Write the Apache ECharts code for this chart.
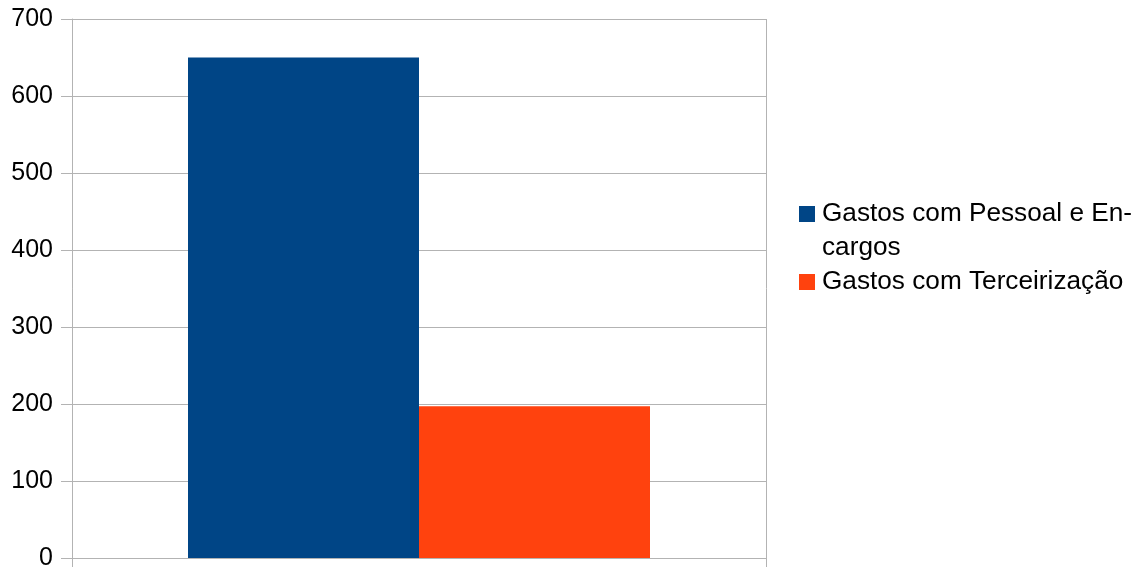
<!DOCTYPE html>
<html>
<head>
<meta charset="utf-8">
<script src="https://cdn.jsdelivr.net/npm/echarts@6/dist/echarts.min.js"></script>
<style>
  html, body { margin: 0; padding: 0; background: #fff; }
  #chart { width: 1144px; height: 571px; }
</style>
</head>
<body>
<div id="chart"></div>
<script>
// dados
var categorias = [""];
var seriesNomes = ["Gastos com Pessoal e Encargos", "Gastos com Terceirização"];
var pessoal = [650];
var terceirizacao = [197];
var yMin = 0, yMax = 700, yPasso = 100;

var chart = echarts.init(document.getElementById("chart"));
var fonte = "'Liberation Sans', Arial, sans-serif";
var cinza = "#b3b3b3";

// icone quadrado no topo (alinha com a 1a linha do texto), com 2px de folga a direita
var iconeTopo = "path://M0,0L16,0L16,16L0,16Z M18,50";
var iconeQuadrado = "path://M0,17L16,17L16,33L0,33Z M18,0 M18,50";

var option = {
  animation: false,
  textStyle: { fontFamily: fonte },
  grid: { left: 72, right: 378, top: 19, bottom: 13, containLabel: false },
  legend: {
    orient: "vertical",
    left: 799,
    top: 197,
    padding: 0,
    itemWidth: 18,
    itemHeight: 50,
    itemGap: -8,
    data: [
      { name: seriesNomes[0], icon: iconeTopo },
      { name: seriesNomes[1], icon: iconeQuadrado }
    ],
    formatter: function (nome) {
      // quebra igual ao original
      if (nome === seriesNomes[0]) return "Gastos com Pessoal e En-\ncargos";
      return nome;
    },
    textStyle: { fontSize: 26.2, color: "#000", fontFamily: fonte, lineHeight: 34 }
  },
  xAxis: {
    type: "category",
    data: categorias,
    boundaryGap: true,
    axisLine: { show: true, lineStyle: { color: cinza } },
    axisTick: { show: true, length: 9, alignWithLabel: false, lineStyle: { color: cinza } },
    axisLabel: { show: false },
    splitLine: { show: true, lineStyle: { color: cinza } }
  },
  yAxis: {
    type: "value",
    min: yMin,
    max: yMax,
    interval: yPasso,
    axisLine: { show: true, lineStyle: { color: cinza } },
    axisTick: { show: true, length: 11, lineStyle: { color: cinza } },
    axisLabel: { fontSize: 25, color: "#000", margin: 19, fontFamily: fonte },
    splitLine: { show: true, lineStyle: { color: cinza } }
  },
  series: [
    {
      name: seriesNomes[0],
      type: "bar",
      data: pessoal,
      barWidth: 231,
      barGap: 0,
      itemStyle: { color: "#004586" }
    },
    {
      name: seriesNomes[1],
      type: "bar",
      data: terceirizacao,
      barWidth: 231,
      barGap: 0,
      itemStyle: { color: "#ff420e" }
    }
  ]
};

chart.setOption(option);
</script>
</body>
</html>
